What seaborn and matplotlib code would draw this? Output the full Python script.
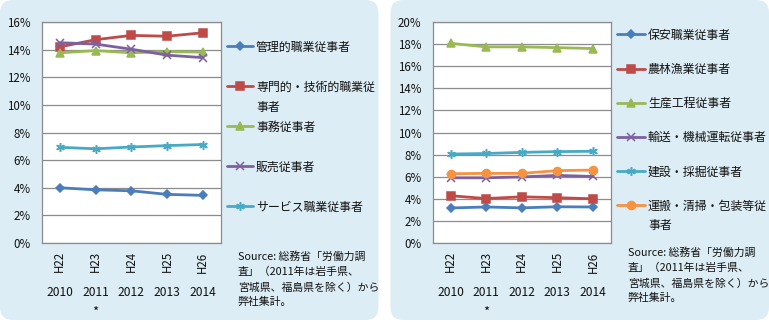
import matplotlib
matplotlib.use("Agg")
import matplotlib.pyplot as plt
from matplotlib.patches import FancyBboxPatch
from matplotlib.transforms import IdentityTransform
import seaborn as sns
import pandas as pd

# ---------------- data ----------------
eras = ["H22", "H23", "H24", "H25", "H26"]
years = ["2010", "2011", "2012", "2013", "2014"]
year_notes = ["", "*", "", "", ""]

left_names = ["管理的職業従事者", "専門的・技術的職業従事者", "事務従事者", "販売従事者", "サービス職業従事者"]
left_kanri = [4.0, 3.85, 3.78, 3.52, 3.45]
left_senmon = [14.2, 14.72, 15.03, 14.97, 15.22]
left_jimu = [13.77, 13.93, 13.77, 13.85, 13.82]
left_hanbai = [14.5, 14.4, 14.03, 13.6, 13.42]
left_service = [6.93, 6.82, 6.95, 7.05, 7.13]

right_names = ["保安職業従事者", "農林漁業従事者", "生産工程従事者", "輸送・機械運転従事者", "建設・採掘従事者", "運搬・清掃・包装等従事者"]
right_hoan = [3.17, 3.26, 3.18, 3.28, 3.26]
right_nourin = [4.28, 4.02, 4.18, 4.1, 4.0]
right_seisan = [18.07, 17.75, 17.75, 17.68, 17.6]
right_yusou = [5.9, 5.9, 5.98, 6.12, 6.02]
right_kensetsu = [8.05, 8.1, 8.2, 8.27, 8.3]
right_unpan = [6.27, 6.3, 6.3, 6.55, 6.6]

left_legend_lines = ["管理的職業従事者", "専門的・技術的職業従\n事者", "事務従事者", "販売従事者", "サービス職業従事者"]
right_legend_lines = ["保安職業従事者", "農林漁業従事者", "生産工程従事者", "輸送・機械運転従事者", "建設・採掘従事者", "運搬・清掃・包装等従\n事者"]

source_text = "Source: 総務省「労働力調\n査」（2011年は岩手県、\n宮城県、福島県を除く）から\n弊社集計。"

colors = ["#4A7EBB", "#BE4B48", "#98B954", "#7D60A0", "#46AAC5", "#F69240"]
marker_list = ["D", "s", "^", "x", (6, 2, 0), "o"]
marker_sizes = [3.8, 5.2, 5.8, 5.2, 6.2, 5.8]

# ---------------- style ----------------
sns.set_style("white")
plt.rcParams["font.family"] = ["Noto Sans CJK JP", "DejaVu Sans"]
TXT = "#111111"
GRID = "#8c8c8c"
PANEL = "#dcedf5"

W, H = 769, 322
fig = plt.figure(figsize=(W / 100, H / 100), dpi=100)
fig.patch.set_facecolor("white")

def px_box(x0, y0, x1, y1):
    return (x0 / W, 1 - y1 / H, (x1 - x0) / W, (y1 - y0) / H)

# rounded panels (pixel coordinates, origin bottom-left)
for (x0, x1) in [(0, 378.5), (390.5, 769)]:
    r = 13
    top, bot = H - 0, H - 320
    patch = FancyBboxPatch((x0 + r, bot + r), (x1 - x0) - 2 * r, (top - bot) - 2 * r,
                           boxstyle=f"round,pad={r}", transform=IdentityTransform(),
                           facecolor=PANEL, edgecolor="none", zorder=-5)
    fig.patches.append(patch)


def make_panel(ax_rect, names, series, ymax, legend_labels, leg_x, leg_y, leg_pitch,
               handle_px, src_x, src_y):
    ax = fig.add_axes(px_box(*ax_rect))
    ax.set_facecolor("white")
    lines = []
    for i, (name, vals) in enumerate(zip(names, series)):
        df = pd.DataFrame({"era": eras, "value": vals})
        before = len(ax.lines)
        sns.lineplot(data=df, x="era", y="value", color=colors[i], marker=marker_list[i],
                     markersize=marker_sizes[i], linewidth=2, ax=ax, zorder=3,
                     markeredgecolor=colors[i], markerfacecolor=colors[i],
                     markeredgewidth=1.1, label=name, legend=False)
        lines.append(ax.lines[before])
    ax.set_xlim(-0.5, len(eras) - 0.5)
    ax.set_ylim(0, ymax)
    ax.set_yticks(range(0, ymax + 1, 2))
    ax.set_yticklabels([f"{t}%" for t in range(0, ymax + 1, 2)], fontsize=8.3, color=TXT)
    ax.set_xticks(range(len(eras)))
    ax.set_xticklabels(eras, rotation=90, fontsize=8.3, color=TXT, va="top")
    ax.tick_params(axis="both", length=0)
    ax.tick_params(axis="y", pad=8)
    ax.tick_params(axis="x", pad=6)
    ax.set_xlabel("")
    ax.set_ylabel("")
    ax.grid(axis="y", color=GRID, linewidth=0.9)
    ax.set_axisbelow(True)
    for s in ax.spines.values():
        s.set_color(GRID)
        s.set_linewidth(0.9)
        s.set_visible(True)
    if ax.get_legend() is not None:
        ax.get_legend().remove()
    ax_h = ax_rect[3] - ax_rect[1]
    tr = ax.get_xaxis_transform()
    for i, (y, note) in enumerate(zip(years, year_notes)):
        ax.text(i, -50 / ax_h, y, transform=tr, ha="center", va="center",
                fontsize=8.7, color=TXT)
        if note:
            ax.text(i, -69 / ax_h, note, transform=tr, ha="center", va="center",
                    fontsize=9.5, color=TXT)

    # legend (first line of each label; continuation lines drawn below)
    first_lines = [l.split("\n")[0] for l in legend_labels]
    fs = 8.6
    fs_px = fs * 100 / 72
    leg = fig.legend(lines, first_lines, loc="upper left",
                     bbox_to_anchor=(leg_x / W, 1 - leg_y / H),
                     bbox_transform=fig.transFigure, frameon=False,
                     fontsize=fs, borderpad=0, borderaxespad=0,
                     handlelength=handle_px / fs_px, handletextpad=0.25,
                     labelspacing=(leg_pitch - 13) / fs_px, labelcolor=TXT)
    fig.canvas.draw()
    renderer = fig.canvas.get_renderer()
    for txt, full in zip(leg.get_texts(), legend_labels):
        parts = full.split("\n")
        if len(parts) > 1:
            bb = txt.get_window_extent(renderer)
            cy = (bb.y0 + bb.y1) / 2
            for k, p in enumerate(parts[1:], start=1):
                fig.text(bb.x0 / W, (cy - 20 * k) / H, p, ha="left", va="center",
                         fontsize=fs, color=TXT)

    fig.text(src_x / W, 1 - src_y / H, source_text, ha="left", va="top",
             fontsize=7.8, color=TXT, linespacing=1.6)
    return ax


make_panel((42, 22, 220.7, 243), left_names,
           [left_kanri, left_senmon, left_jimu, left_hanbai, left_service], 16,
           left_legend_lines, 227, 40.5, 40, 26, 238, 251)

make_panel((432.7, 22, 610.7, 243), right_names,
           [right_hoan, right_nourin, right_seisan, right_yusou, right_kensetsu, right_unpan], 20,
           right_legend_lines, 617, 28.5, 34.2, 28, 628, 247)

fig.savefig("out.png", dpi=100)
